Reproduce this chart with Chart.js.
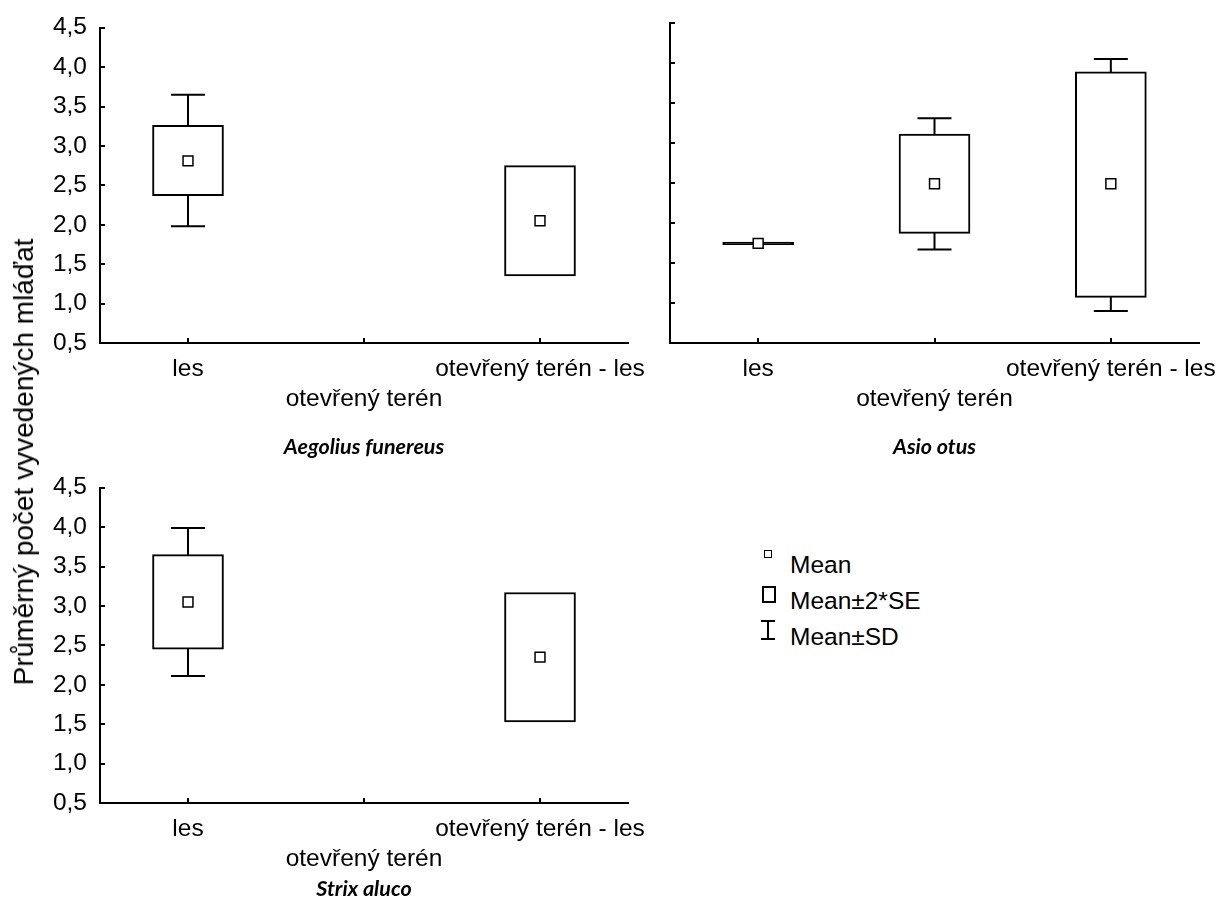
<!DOCTYPE html>
<html>
<head>
<meta charset="utf-8">
<script src="https://cdn.jsdelivr.net/npm/chart.js@4.4.1/dist/chart.umd.min.js"></script>
<style>
  html, body { margin: 0; padding: 0; background: #fff; overflow: hidden; }
  body { width: 1220px; height: 910px; position: relative; font-family: 'Liberation Sans', Arial, sans-serif; color: #000; }
  .panel { position: absolute; }
  #yTitle {
    position: absolute; left: 24px; top: 462px;
    transform: translate(-50%, -50%) rotate(-90deg);
    white-space: nowrap; font-size: 28px;
  }
  .leg-text { position: absolute; left: 790px; height: 30px; line-height: 30px; font-size: 24.5px; white-space: nowrap; }
  .ico-mean { position: absolute; left: 764px; top: 550px; width: 6px; height: 6px; border: 1.5px solid #000; background: #fff; }
  .ico-box { position: absolute; left: 762px; top: 586px; width: 10px; height: 13px; border: 2px solid #000; }
  .ico-sd { position: absolute; left: 761px; top: 620px; width: 14px; height: 16px; border-top: 2px solid #000; border-bottom: 2px solid #000; }
  .ico-sd::after { content: ''; position: absolute; left: 6px; top: 0; width: 2px; height: 16px; background: #000; }
</style>
</head>
<body>
<div class="panel" style="left:0; top:0; width:670px; height:470px;"><canvas id="c1"></canvas></div>
<div class="panel" style="left:570px; top:0; width:670px; height:470px;"><canvas id="c2"></canvas></div>
<div class="panel" style="left:0; top:460px; width:670px; height:450px;"><canvas id="c3"></canvas></div>

<div id="yTitle">Průměrný počet vyvedených mláďat</div>

<div class="ico-mean"></div>
<div class="leg-text" style="top:550px;">Mean</div>
<div class="ico-box"></div>
<div class="leg-text" style="top:586px;">Mean±2*SE</div>
<div class="ico-sd"></div>
<div class="leg-text" style="top:622px;">Mean±SD</div>

<script>
// kategorie a osy
const categories = ['les', 'otevřený terén', 'otevřený terén - les'];
const xPositions = [1, 2, 3];
const yTicks = [0.5, 1.0, 1.5, 2.0, 2.5, 3.0, 3.5, 4.0, 4.5];

// Aegolius funereus
const aegoliusMean   = [2.81, null, 2.05];
const aegoliusSeLow  = [2.37, null, 1.35];
const aegoliusSeHigh = [3.26, null, 2.75];
const aegoliusSdLow  = [1.98, null, null];
const aegoliusSdHigh = [3.65, null, null];

// Asio otus
const asioMean   = [1.745, 2.49, 2.49];
const asioSeLow  = [1.73, 1.87, 1.07];
const asioSeHigh = [1.76, 3.11, 3.89];
const asioSdLow  = [null, 1.67, 0.90];
const asioSdHigh = [null, 3.31, 4.05];

// Strix aluco
const strixMean   = [3.05, null, 2.35];
const strixSeLow  = [2.45, null, 1.53];
const strixSeHigh = [3.65, null, 3.17];
const strixSdLow  = [2.11, null, null];
const strixSdHigh = [3.99, null, null];

Chart.defaults.font.family = "'Liberation Sans', Arial, sans-serif";
Chart.defaults.color = '#000';

// whiskers (Mean±SD) pod boxy
const whiskerPlugin = {
    id: 'whiskers',
    beforeDatasetsDraw(chart, args, opts) {
        const ctx = chart.ctx;
        const x = chart.scales.x, y = chart.scales.y;
        ctx.save();
        ctx.strokeStyle = '#000';
        ctx.lineWidth = 2;
        xPositions.forEach((xv, i) => {
            if (opts.low[i] == null) return;
            const px = x.getPixelForValue(xv);
            const yl = y.getPixelForValue(opts.low[i]);
            const yh = y.getPixelForValue(opts.high[i]);
            ctx.beginPath();
            ctx.moveTo(px, yl); ctx.lineTo(px, yh);
            ctx.moveTo(px - 17, yl); ctx.lineTo(px + 17, yl);
            ctx.moveTo(px - 17, yh); ctx.lineTo(px + 17, yh);
            ctx.stroke();
        });
        ctx.restore();
    }
};

// tick marks pointing inside
const innerTicks = {
    id: 'innerTicks',
    afterDraw(chart) {
        const ctx = chart.ctx;
        const area = chart.chartArea;
        const x = chart.scales.x, y = chart.scales.y;
        ctx.save();
        ctx.strokeStyle = '#000';
        ctx.lineWidth = 2;
        ctx.beginPath();
        y.ticks.forEach(t => {
            const py = Math.round(y.getPixelForValue(t.value));
            ctx.moveTo(area.left, py); ctx.lineTo(area.left + 5, py);
        });
        x.ticks.forEach(t => {
            const px = Math.round(x.getPixelForValue(t.value));
            ctx.moveTo(px, area.bottom); ctx.lineTo(px, area.bottom - 5);
        });
        ctx.stroke();
        ctx.restore();
    }
};

function makeChart(id, p) {
    const boxes = [];
    const means = [];
    xPositions.forEach((xv, i) => {
        if (p.seLow[i] != null) boxes.push({ x: xv, y: [p.seLow[i], p.seHigh[i]] });
        if (p.mean[i] != null) means.push({ x: xv, y: p.mean[i] });
    });

    new Chart(document.getElementById(id), {
        type: 'bar',
        data: {
            datasets: [{
                type: 'bar',
                label: 'Mean±2*SE',
                data: boxes,
                // skoro nulovy box se kresli jako plna cara
                backgroundColor: c => (c.raw && c.raw.y[1] - c.raw.y[0] < 0.05) ? '#000' : '#fff',
                borderColor: '#000',
                borderWidth: 2,
                borderSkipped: false,
                barThickness: 71,
                order: 1
            }, {
                type: 'scatter',
                label: 'Mean',
                data: means,
                pointStyle: 'rect',
                pointRadius: 7,
                pointBorderWidth: 1.5,
                pointBorderColor: '#000',
                pointBackgroundColor: '#fff',
                order: 0
            }]
        },
        options: {
            responsive: true,
            maintainAspectRatio: false,
            animation: false,
            devicePixelRatio: 1,
            layout: { padding: p.padding },
            plugins: {
                legend: { display: false },
                tooltip: { enabled: false },
                whiskers: { low: p.sdLow, high: p.sdHigh }
            },
            scales: {
                x: {
                    type: 'linear',
                    min: 0.5,
                    max: 3.5,
                    offset: false,
                    afterBuildTicks: s => { s.ticks = xPositions.map(v => ({ value: v })); },
                    afterFit: s => { s.height = p.xHeight; },
                    grid: { display: true, drawOnChartArea: false, drawTicks: false },
                    border: { display: true, color: '#000', width: 2 },
                    ticks: {
                        autoSkip: false,
                        maxRotation: 0,
                        minRotation: 0,
                        padding: 12,
                        font: { size: 24.5 },
                        callback: v => {
                            const i = xPositions.indexOf(v);
                            return i % 2 === 1 ? ['', categories[i]] : categories[i];
                        }
                    },
                    title: {
                        display: true,
                        text: p.title,
                        font: { family: 'Lato', size: 21.5, style: 'italic', weight: 'bold' },
                        padding: { top: 0, bottom: p.titlePad }
                    }
                },
                y: {
                    type: 'linear',
                    min: 0.5,
                    max: 4.5,
                    afterBuildTicks: s => { s.ticks = yTicks.map(v => ({ value: v })); },
                    afterFit: s => { s.width = 100; },
                    grid: { display: true, drawOnChartArea: false, drawTicks: false },
                    border: { display: true, color: '#000', width: 2 },
                    ticks: {
                        display: p.showY,
                        padding: 13,
                        font: { size: 24.5 },
                        callback: v => v.toFixed(1).replace('.', ',')
                    }
                }
            }
        },
        plugins: [whiskerPlugin, innerTicks]
    });
}

makeChart('c1', {
    title: 'Aegolius funereus',
    mean: aegoliusMean, seLow: aegoliusSeLow, seHigh: aegoliusSeHigh,
    sdLow: aegoliusSdLow, sdHigh: aegoliusSdHigh,
    showY: true,
    padding: { top: 23, right: 42, left: 0, bottom: 0 },
    xHeight: 127, titlePad: 10
});

makeChart('c2', {
    title: 'Asio otus',
    mean: asioMean, seLow: asioSeLow, seHigh: asioSeHigh,
    sdLow: asioSdLow, sdHigh: asioSdHigh,
    showY: false,
    padding: { top: 23, right: 41, left: 0, bottom: 0 },
    xHeight: 127, titlePad: 10
});

makeChart('c3', {
    title: 'Strix aluco',
    mean: strixMean, seLow: strixSeLow, seHigh: strixSeHigh,
    sdLow: strixSdLow, sdHigh: strixSdHigh,
    showY: true,
    padding: { top: 23, right: 42, left: 0, bottom: 0 },
    xHeight: 107, titlePad: 8
});
</script>
</body>
</html>
